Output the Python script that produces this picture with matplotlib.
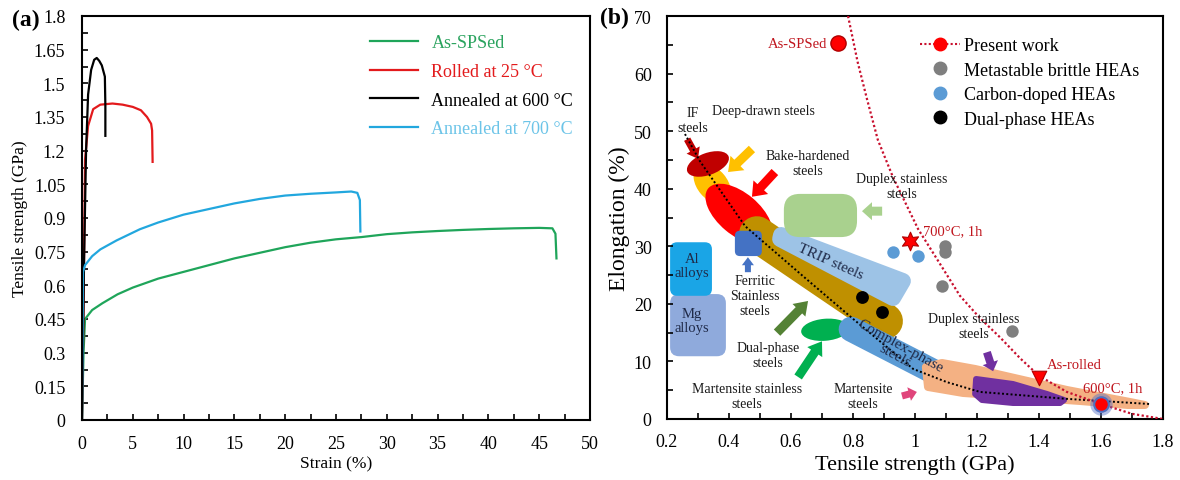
import numpy as np
import matplotlib
matplotlib.use('Agg')
import matplotlib.pyplot as plt
import matplotlib.transforms as mtransforms
from matplotlib.patches import Ellipse, FancyBboxPatch, Polygon, FancyArrowPatch, ArrowStyle
from matplotlib.lines import Line2D
from matplotlib.ticker import MultipleLocator, FuncFormatter

plt.rcParams['font.family'] = ['Liberation Serif', 'DejaVu Serif']

# ---------------- panel (a): engineering stress-strain curves ----------------
sps_strain = [0, 0.15, 0.3, 1, 2, 3.5, 5, 7.5, 10, 12.5, 15, 17.5, 20, 22.5, 25,
              27.5, 30, 32.5, 35, 37.5, 40, 42.5, 45, 46.3, 46.6, 46.7]
sps_stress = [0, 0.30, 0.45, 0.49, 0.52, 0.56, 0.59, 0.63, 0.66, 0.69, 0.72, 0.745,
              0.77, 0.79, 0.805, 0.815, 0.828, 0.836, 0.842, 0.847, 0.851, 0.854,
              0.856, 0.854, 0.83, 0.72]

rolled_strain = [0, 0.15, 0.3, 0.6, 1.1, 1.8, 3, 4, 5, 5.8, 6.4, 6.8, 6.9, 6.95]
rolled_stress = [0, 0.5, 1.16, 1.31, 1.385, 1.405, 1.41, 1.405, 1.395, 1.38, 1.35,
                 1.32, 1.29, 1.15]

a600_strain = [0, 0.2, 0.4, 0.6, 0.9, 1.2, 1.45, 1.7, 1.95, 2.25, 2.3, 2.3]
a600_stress = [0, 0.7, 1.2, 1.45, 1.56, 1.605, 1.613, 1.60, 1.58, 1.53, 1.40, 1.266]

a700_strain = [0, 0.1, 0.3, 1, 1.8, 3.4, 5.7, 7.5, 10, 12.5, 15, 17.5, 20, 22.5,
               25, 26.5, 27.1, 27.35, 27.4]
a700_stress = [0, 0.66, 0.69, 0.73, 0.76, 0.80, 0.85, 0.88, 0.915, 0.94, 0.965,
               0.985, 1.0, 1.008, 1.014, 1.018, 1.012, 0.98, 0.84]

curve_labels = ['As-SPSed', 'Rolled at 25 °C', 'Annealed at 600 °C', 'Annealed at 700 °C']
curve_colors = ['#1FA55A', '#E31A1C', '#000000', '#22A7DE']
label_colors = ['#2AA35E', '#E31A1C', '#000000', '#6CC4E8']

# ---------------- panel (b): strength-ductility map ----------------
trend_v = [0.784, 0.815, 0.845, 0.88, 0.929, 1.01, 1.08, 1.145, 1.21, 1.274,
           1.34, 1.40, 1.49, 1.60, 1.70, 1.80]
trend_e = [70, 62, 55.6, 48.5, 42, 33, 27, 21.4, 17.5, 14.2, 10.5, 7.5, 4.7, 2.6, 0.9, 0]

band_v = [0.258, 0.306, 0.452, 0.639, 0.800, 0.994, 1.103, 1.210, 1.490, 1.758]
band_e = [49.5, 44.8, 33.5, 24.8, 17.4, 8.7, 6.4, 4.7, 3.5, 2.6]

present_labels = ['As-SPSed', '700°C, 1h', 'As-rolled', '600°C, 1h']
present_v = [0.752, 0.984, 1.40, 1.60]
present_e = [65.3, 30.9, 7.1, 2.6]

brittle_v = [1.097, 1.097, 1.087, 1.313]
brittle_e = [30.0, 29.0, 23.1, 15.3]
carbon_v = [0.929, 1.010]
carbon_e = [29.0, 28.3]
dual_v = [0.829, 0.894]
dual_e = [21.2, 18.6]

# steel / alloy regions
ell_names = ['Deep-drawn', 'Bake-hardened', 'IF', 'Dual-phase']
ell_center = [(0.346, 40.8), (0.432, 35.6), (0.332, 44.3), (0.710, 15.5)]
ell_colors = ['#FFC000', '#FF0000', '#C00000', '#00B050']

box_names = ['Mg alloys', 'Al alloys', 'Ferritic stainless', 'Duplex stainless']
box_v = [(0.21, 0.39), (0.21, 0.345), (0.419, 0.506), (0.577, 0.813)]
box_e = [(10.9, 21.7), (21.4, 30.7), (28.3, 32.7), (31.6, 39.1)]
box_colors = ['#8FAADC', '#1AA5E6', '#4472C4', '#A9D18E']

gold_v = [0.490, 0.903]
gold_e = [32.1, 17.0]
complex_v = [0.794, 1.061]
complex_e = [15.6, 8.2]

trip_v = [0.568, 0.961, 0.929, 0.565]
trip_e = [31.96, 23.97, 21.02, 31.27]
mart_v = [1.035, 1.087, 1.194, 1.490, 1.694, 1.742, 1.687, 1.532, 1.155, 1.042]
mart_e = [9.03, 9.73, 8.69, 5.04, 2.95, 2.43, 2.43, 3.13, 4.52, 5.56]
mss_v = [1.197, 1.316, 1.426, 1.481, 1.468, 1.316, 1.216, 1.194]
mss_e = [6.95, 6.08, 4.34, 3.30, 2.78, 2.78, 3.30, 4.34]

arrow_tail = [(0.265, 48.6), (0.474, 46.9), (0.548, 42.9), (0.894, 36.1), (0.461, 25.5),
              (0.555, 15.0), (0.623, 7.3), (0.958, 4.0), (1.232, 11.6)]
arrow_head = [(0.300, 45.2), (0.397, 42.9), (0.474, 38.6), (0.829, 36.1), (0.461, 28.1),
              (0.655, 20.5), (0.700, 13.5), (1.006, 4.7), (1.252, 8.3)]
arrow_colors = ['#C00000', '#FFC000', '#FF0000', '#A9D18E', '#4472C4',
                '#548235', '#00B050', '#E0457B', '#7030A0']

notes = ['IF\nsteels', 'Deep-drawn steels', 'Bake-hardened\nsteels', 'Duplex stainless\nsteels',
         'Ferritic\nStainless\nsteels', 'Dual-phase\nsteels', 'Martensite stainless\nsteels',
         'Martensite\nsteels', 'Duplex stainless\nsteels']
notes_v = [0.282, 0.510, 0.655, 0.958, 0.484, 0.526, 0.458, 0.832, 1.188]
notes_e = [51.9, 53.5, 44.4, 40.4, 21.5, 11.2, 4.0, 4.0, 16.1]

fig = plt.figure(figsize=(11.8, 4.81), dpi=100)
W, H = 1180.0, 481.0


def style_axes(ax, lsize):
    for s in ax.spines.values():
        s.set_linewidth(1.5)
    ax.tick_params(which='both', direction='in', top=False, right=False,
                   length=4, width=1.2, labelsize=lsize)


# ---------------- (a) ----------------
ax1 = fig.add_axes([82 / W, 60 / H, 508 / W, 404 / H])
series = [(sps_strain, sps_stress), (rolled_strain, rolled_stress),
          (a600_strain, a600_stress), (a700_strain, a700_stress)]
for (x, y), lab, c in zip(series, curve_labels, curve_colors):
    ax1.plot(x, y, color=c, lw=1.6, label=lab, solid_joinstyle='round')
ax1.set_xlim(0, 50)
ax1.set_ylim(0, 1.8)
ax1.xaxis.set_major_locator(MultipleLocator(5))
ax1.xaxis.set_minor_locator(MultipleLocator(2.5))
ax1.yaxis.set_major_locator(MultipleLocator(0.15))
ax1.yaxis.set_minor_locator(MultipleLocator(0.075))
ax1.yaxis.set_major_formatter(FuncFormatter(lambda v, p: f'{v:.2f}'.rstrip('0').rstrip('.')))
style_axes(ax1, 13)
ax1.tick_params(axis='x', pad=11)
ax1.tick_params(axis='y', pad=12)
ax1.set_xlabel('Strain (%)', fontsize=12.5, labelpad=2)
ax1.set_ylabel('Tensile strength (GPa)', fontsize=12.5, labelpad=4)
leg = ax1.legend(loc='upper left', bbox_to_anchor=(0.567, 0.955), frameon=False,
                 fontsize=13, handlelength=2.65, handletextpad=0.75, labelspacing=0.65,
                 borderpad=0, borderaxespad=0)
for txt, c in zip(leg.get_texts(), label_colors):
    txt.set_color(c)
fig.text(12 / W, 1 - 20 / H, '(a)', fontsize=17, fontweight='bold', va='center')

# ---------------- (b) ----------------
ax2 = fig.add_axes([667 / W, 61 / H, 496 / W, 403 / H])
ax2.set_xlim(0.2, 1.8)
ax2.set_ylim(0, 70)
ax2.xaxis.set_major_locator(MultipleLocator(0.2))
ax2.xaxis.set_minor_locator(MultipleLocator(0.1))
ax2.yaxis.set_major_locator(MultipleLocator(10))
ax2.yaxis.set_minor_locator(MultipleLocator(5))
ax2.xaxis.set_major_formatter(FuncFormatter(lambda v, p: f'{v:.1f}'.rstrip('0').rstrip('.')))
style_axes(ax2, 13)
ax2.tick_params(axis='x', pad=10)
ax2.tick_params(axis='y', pad=11)
ax2.set_xlabel('Tensile strength (GPa)', fontsize=16, labelpad=3)
ax2.set_ylabel('Elongation (%)', fontsize=17, labelpad=3)
fig.text(600 / W, 1 - 18 / H, '(b)', fontsize=17, fontweight='bold', va='center')

# pixels per data unit, used to keep shapes round on screen
p0 = ax2.transData.transform((0, 0))
p1 = ax2.transData.transform((1, 1))
sx, sy = p1[0] - p0[0], p1[1] - p0[1]
PT = 72.0 / fig.dpi


def at(v, e):
    return fig.dpi_scale_trans + mtransforms.ScaledTranslation(v, e, ax2.transData)


# boxes
box_round = [9, 7, 5, 16]
box_z = [1.0, 1.1, 2.6, 2.6]
for (v0, v1), (e0, e1), c, r, z in zip(box_v, box_e, box_colors, box_round, box_z):
    ax2.add_patch(FancyBboxPatch((v0, e0), v1 - v0, e1 - e0,
                                 boxstyle=f'round,pad=0,rounding_size={r / sx}',
                                 mutation_aspect=sx / sy, fc=c, ec='none', zorder=z))

# ellipses (size in pixels, angle on screen)
ell_size = [(46, 30, -50), (80, 42, -40), (44, 22, 20), (48, 22, 5)]
ell_z = [2.0, 2.1, 2.2, 2.45]
for (v, e), (w, h, a), c, z in zip(ell_center, ell_size, ell_colors, ell_z):
    ax2.add_patch(Ellipse((0, 0), w / fig.dpi, h / fig.dpi, angle=a,
                          transform=at(v, e), fc=c, ec='none', zorder=z))

# broad bands
ax2.plot(gold_v, gold_e, color='#BF9000', lw=36 * PT, solid_capstyle='round', zorder=2.3)
ax2.add_patch(Polygon(np.column_stack([trip_v, trip_e]), closed=True, fc='#9DC3E6',
                      ec='#9DC3E6', lw=16 * PT, joinstyle='round', zorder=2.5))
ax2.plot(complex_v, complex_e, color='#5B9BD5', lw=25 * PT, solid_capstyle='round', zorder=2.8)
ax2.add_patch(Polygon(np.column_stack([mart_v, mart_e]), closed=True, fc='#F4B183',
                      ec='#F4B183', lw=8 * PT, joinstyle='round', zorder=2.9))
ax2.add_patch(Polygon(np.column_stack([mss_v, mss_e]), closed=True, fc='#7030A0',
                      ec='#7030A0', lw=6 * PT, joinstyle='round', zorder=3.0))

# arrows (sizes in pixels: shaft, head width, head length)
arrow_size = [(7, 15, 10), (9, 20, 13), (9, 20, 13), (9, 18, 10), (6, 12, 8),
              (9, 18, 13), (9, 18, 13), (7, 14, 8), (8, 16, 9)]
for t, h, c, (tw, hw, hl) in zip(arrow_tail, arrow_head, arrow_colors, arrow_size):
    st = ArrowStyle('simple', head_length=hl * PT, head_width=hw * PT, tail_width=tw * PT)
    ax2.add_patch(FancyArrowPatch(t, h, arrowstyle=st, mutation_scale=1, color=c,
                                  shrinkA=0, shrinkB=0, lw=0, zorder=3.2))

# trend lines
ax2.plot(band_v, band_e, color='black', lw=1.4, ls=(0, (1, 1.2)), zorder=3.5)
ax2.plot(trend_v, trend_e, color='#C8102E', lw=1.6, ls=(0, (1, 1.1)), zorder=3.5)

# data points
ax2.scatter(brittle_v, brittle_e, s=80, color='#7F7F7F', zorder=4, lw=0)
ax2.scatter(carbon_v, carbon_e, s=80, color='#5B9BD5', zorder=4, lw=0)
ax2.scatter(dual_v, dual_e, s=85, color='black', zorder=4, lw=0)
ax2.scatter(present_v[0], present_e[0], s=120, color='#FF0000', edgecolors='#B00000', lw=1, zorder=4)
ax2.scatter(present_v[1], present_e[1], s=180, marker=(6, 1, 0), color='#FF0000',
            edgecolors='#B00000', lw=0.8, zorder=4)
ax2.scatter(present_v[2], present_e[2], s=110, marker='v', color='#FF0000',
            edgecolors='#B00000', lw=0.8, zorder=4)
ax2.scatter(present_v[3], present_e[3], s=260, color='#5470C6', alpha=0.45, lw=0, zorder=4)
ax2.scatter(present_v[3], present_e[3], s=110, color='#FF0000', edgecolors='#4F6FBF',
            lw=1.5, zorder=4.1)

red_text = '#C0161E'
ax2.text(0.718, present_e[0], present_labels[0], color=red_text, fontsize=10.5,
         ha='right', va='center', zorder=5)
ax2.text(1.026, 32.7, present_labels[1], color=red_text, fontsize=10.5, ha='left',
         va='center', zorder=5)
ax2.text(1.426, 9.55, present_labels[2], color=red_text, fontsize=10.5, ha='left',
         va='center', zorder=5)
ax2.text(1.542, 5.4, present_labels[3], color=red_text, fontsize=10.5, ha='left',
         va='center', zorder=5)

for txt, v, e in zip(notes, notes_v, notes_e):
    ax2.text(v, e, txt, fontsize=10, ha='center', va='center', color='#1A1A1A',
             linespacing=1.2, zorder=5)

navy = '#1F2A48'
ax2.text(0.281, 26.7, 'Al\nalloys', fontsize=10.5, ha='center', va='center', color=navy,
         linespacing=1.15, zorder=5)
ax2.text(0.281, 17.1, 'Mg\nalloys', fontsize=10.5, ha='center', va='center', color=navy,
         linespacing=1.15, zorder=5)
ax2.text(0.726, 27.4, 'TRIP steels', fontsize=11, ha='center', va='center', color=navy,
         rotation=-24, rotation_mode='anchor', zorder=5)
ax2.text(0.945, 12.0, 'Complex-phase\nsteels', fontsize=11, ha='center', va='center',
         color=navy, rotation=-29, rotation_mode='anchor', linespacing=0.8, zorder=5)

handles = [Line2D([], [], color='#C8102E', ls=(0, (1, 1.1)), lw=1.5, marker='o',
                  mfc='#FF0000', mec='#FF0000', ms=9),
           Line2D([], [], ls='none', marker='o', color='#7F7F7F', ms=9),
           Line2D([], [], ls='none', marker='o', color='#5B9BD5', ms=9),
           Line2D([], [], ls='none', marker='o', color='black', ms=9)]
hlabels = ['Present work', 'Metastable brittle HEAs', 'Carbon-doped HEAs', 'Dual-phase HEAs']
ax2.legend(handles, hlabels, loc='upper left', bbox_to_anchor=(0.51, 0.948), frameon=False,
           fontsize=13, handlelength=2.2, handletextpad=0.25, labelspacing=0.42,
           borderpad=0, borderaxespad=0)

fig.savefig('out.png', dpi=100)
